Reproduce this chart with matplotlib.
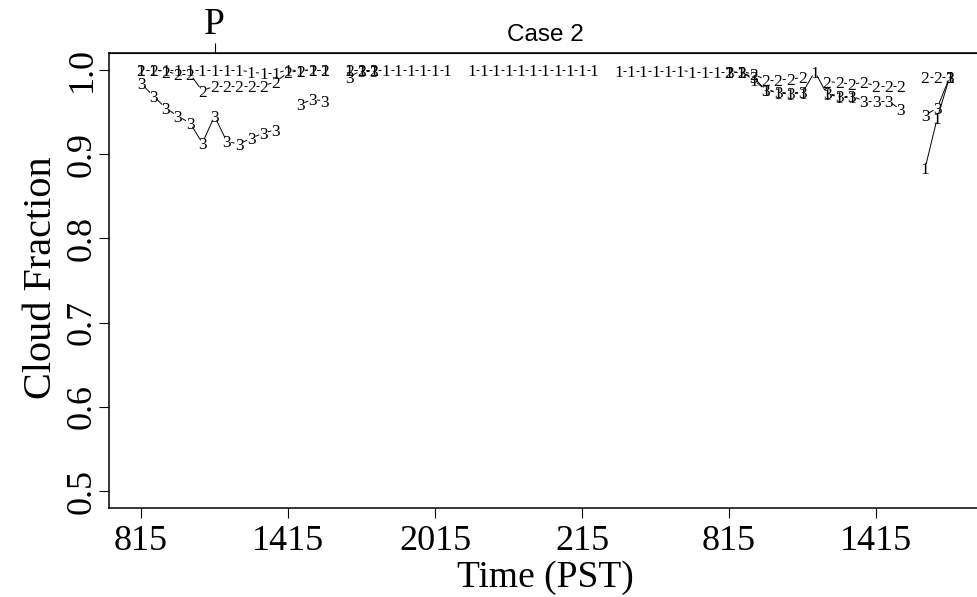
import matplotlib
matplotlib.use('Agg')
import matplotlib.pyplot as plt
import numpy as np

nan = np.nan

# half-hourly times, hours from midnight of day 1 (8.25 = 08:15)
hours = [8.25, 8.75, 9.25, 9.75, 10.25, 10.75, 11.25, 11.75, 12.25, 12.75,
         13.25, 13.75, 14.25, 14.75, 15.25, 15.75, 16.25, 16.75, 17.25, 17.75,
         18.25, 18.75, 19.25, 19.75, 20.25, 20.75, 21.25, 21.75, 22.25, 22.75,
         23.25, 23.75, 24.25, 24.75, 25.25, 25.75, 26.25, 26.75, 27.25, 27.75,
         28.25, 28.75, 29.25, 29.75, 30.25, 30.75, 31.25, 31.75, 32.25, 32.75,
         33.25, 33.75, 34.25, 34.75, 35.25, 35.75, 36.25, 36.75, 37.25, 37.75,
         38.25, 38.75, 39.25, 39.75, 40.25, 40.75, 41.25]

series1 = [1.0, 1.0, 1.0, 1.0, 1.0, 1.0, 1.0, 1.0, 1.0, 0.997, 0.996, 0.996, 1.0, 0.999, 1.0, 1.0,
           nan,
           1.0, 1.0, 1.0, 1.0, 1.0, 1.0, 1.0, 1.0, 1.0,
           nan,
           1.0, 1.0, 1.0, 1.0, 1.0, 1.0, 1.0, 1.0, 1.0, 1.0, 1.0,
           nan,
           0.999, 0.999, 0.999, 0.999, 0.999, 0.999, 0.998, 0.998, 0.998, 0.998, 0.998, 0.988,
           0.976, 0.973, 0.971, 0.973, 0.998, 0.971, 0.968, 0.968, nan, nan, nan, nan,
           nan,
           0.883, 0.943, 0.991]

series2 = [1.0, 1.0, 0.998, 0.995, 0.995, 0.975, 0.981, 0.981, 0.981, 0.981, 0.981, 0.986, 0.997, 0.999, 1.0, 1.0,
           nan,
           1.0, 1.0, 1.0, nan, nan, nan, nan, nan, nan,
           nan,
           nan, nan, nan, nan, nan, nan, nan, nan, nan, nan, nan,
           nan,
           nan, nan, nan, nan, nan, nan, nan, nan, nan, 0.998, 0.998, 0.995,
           0.988, 0.988, 0.989, 0.991, nan, 0.986, 0.985, 0.983, 0.985, 0.981, 0.981, 0.981,
           nan,
           0.991, 0.991, 0.991]

series3 = [0.984, 0.969, 0.955, 0.945, 0.937, 0.913, 0.945, 0.915, 0.912, 0.919, 0.925, 0.929, nan, 0.959, 0.965, 0.963,
           nan,
           0.992, 0.999, 0.999, nan, nan, nan, nan, nan, nan,
           nan,
           nan, nan, nan, nan, nan, nan, nan, nan, nan, nan, nan,
           nan,
           nan, nan, nan, nan, nan, nan, nan, nan, nan, 0.998, 0.997, 0.991,
           0.976, 0.974, 0.972, 0.974, nan, 0.972, 0.969, 0.969, 0.963, 0.963, 0.963, 0.953,
           nan,
           0.946, 0.955, 0.991]

tick_hours = [8.25, 14.25, 20.25, 26.25, 32.25, 38.25]
tick_labels = ['815', '1415', '2015', '215', '815', '1415']
y_ticks = [0.5, 0.6, 0.7, 0.8, 0.9, 1.0]
y_labels = ['0.5', '0.6', '0.7', '0.8', '0.9', '1.0']
p_hour = 11.25

plt.rcParams['font.family'] = 'Liberation Serif'

W, H = 977, 597
fig = plt.figure(figsize=(W / 100, H / 100), dpi=100)
ax = fig.add_axes([108.7 / W, 1 - 508 / H, 873.2 / W, 455 / H])
ax.set_xlim(6.93, 42.57)
ax.set_ylim(0.48, 1.02)

for sp in ax.spines.values():
    sp.set_linewidth(1.1)

ax.set_xticks(tick_hours, tick_labels)
ax.set_yticks(y_ticks, y_labels, rotation=90, va='center')
ax.tick_params(axis='both', direction='out', length=7, width=0.8, labelsize=26)
ax.tick_params(axis='x', pad=5)
ax.tick_params(axis='y', pad=0)

top = ax.secondary_xaxis('top')
top.set_xticks([p_hour], ['P'])
top.tick_params(direction='out', length=7, width=0.8, labelsize=27, pad=1)


def draw_b(x, y, ch, gap=4.6):
    # R style type="b": characters at the points, lines with gaps between them
    x = np.asarray(x, dtype=float)
    y = np.asarray(y, dtype=float)
    tr = ax.transData
    inv = tr.inverted()
    for i in range(len(x) - 1):
        if np.isnan(y[i]) or np.isnan(y[i + 1]):
            continue
        p0 = tr.transform((x[i], y[i]))
        p1 = tr.transform((x[i + 1], y[i + 1]))
        d = p1 - p0
        L = np.hypot(d[0], d[1])
        if L <= 2 * gap:
            continue
        a = inv.transform(p0 + d / L * gap)
        b = inv.transform(p1 - d / L * gap)
        ax.plot([a[0], b[0]], [a[1], b[1]], color='black', lw=0.7, solid_capstyle='butt')
    for xi, yi in zip(x, y):
        if not np.isnan(yi):
            ax.text(xi, yi, ch, ha='center', va='center_baseline', fontsize=12.5, color='black')


draw_b(hours, series3, '3')
draw_b(hours, series2, '2')
draw_b(hours, series1, '1')

fig.text(545 / W, 1 - 587 / H, 'Time (PST)', ha='center', va='baseline', fontsize=27)
fig.text(42 / W, 1 - 278 / H, 'Cloud Fraction', ha='center', va='center', rotation=90, fontsize=29)
fig.text(545 / W, 1 - 41 / H, 'Case 2', ha='center', va='baseline', fontsize=17.5, family='Liberation Sans')

fig.savefig('out.png', dpi=100)
